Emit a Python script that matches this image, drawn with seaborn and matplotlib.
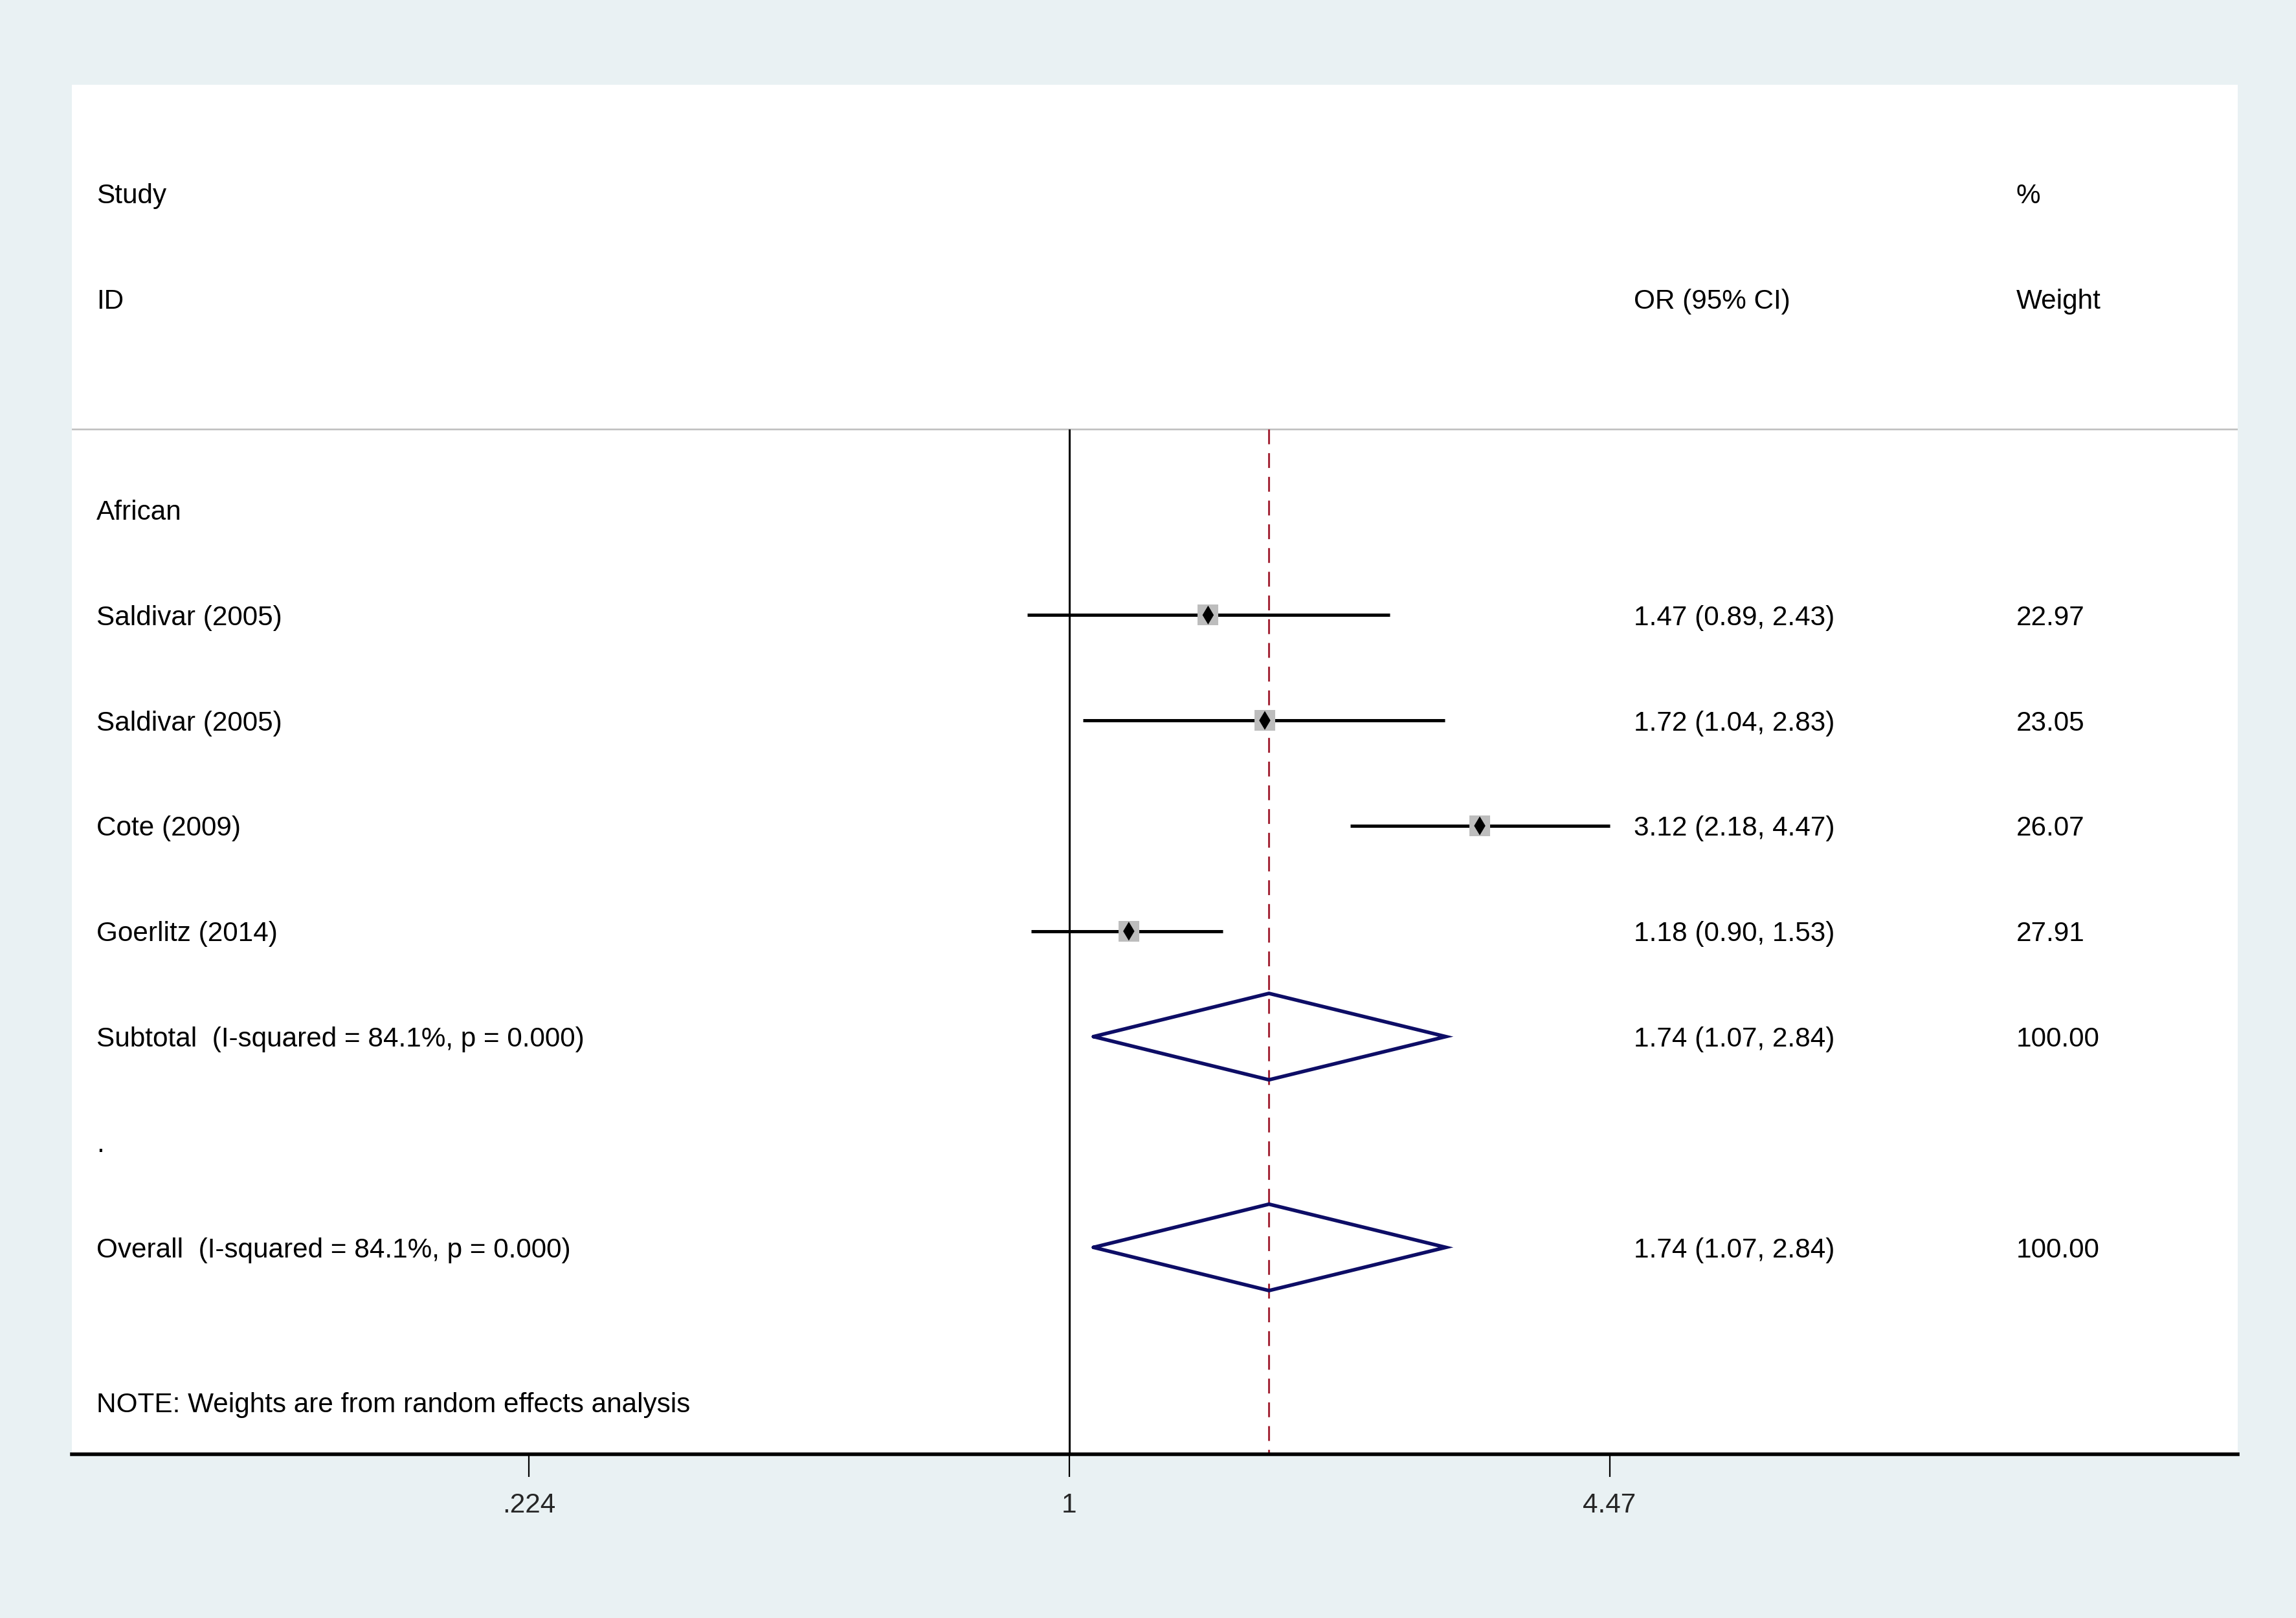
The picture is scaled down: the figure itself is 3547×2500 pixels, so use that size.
import matplotlib
matplotlib.use("Agg")
import matplotlib.pyplot as plt
import seaborn as sns
import pandas as pd
import numpy as np

# study level data (OR with 95% CI and random effects weight)
studies = ['Saldivar (2005)', 'Saldivar (2005)', 'Cote (2009)', 'Goerlitz (2014)']
or_est = [1.47, 1.72, 3.12, 1.18]
ci_lo = [0.89, 1.04, 2.18, 0.90]
ci_hi = [2.43, 2.83, 4.47, 1.53]
weights = [22.97, 23.05, 26.07, 27.91]

# pooled estimates
pooled_labels = ['Subtotal  (I-squared = 84.1%, p = 0.000)',
                 'Overall  (I-squared = 84.1%, p = 0.000)']
pooled_est = [1.74, 1.74]
pooled_lo = [1.07, 1.07]
pooled_hi = [2.84, 2.84]
pooled_wt = [100.00, 100.00]

tick_vals = [0.224, 1, 4.47]
tick_labels = ['.224', '1', '4.47']

sns.set_style('white')
plt.rcParams['font.family'] = ['Liberation Sans', 'DejaVu Sans']
FS = 15.2

fig = plt.figure(figsize=(17.735, 12.5), dpi=200)
fig.patch.set_facecolor('#E9F1F3')
ax = fig.add_axes([0.03125, 0.1014, 0.9745 - 0.03125, 0.9475 - 0.1014])
ax.set_facecolor('white')

rows_study = [4, 5, 6, 7]
rows_pooled = [8, 10]
line_y = 2.236
ymin, ymax = -1.03, 11.96

ax.set_xscale('log')
ax.set_xlim(np.exp(-2.763), np.exp(3.237))
ax.set_ylim(ymax, ymin)

# header separator, null line and pooled effect line
ax.axhline(line_y, color='#BDBDBD', lw=0.9, zorder=1)
ax.vlines(1, line_y, ymax, color='black', lw=1.1, zorder=2)
ax.vlines(pooled_est[-1], line_y, ymax, color='#A5293A', lw=1.1,
          linestyles=(0, (7.5, 4.5)), zorder=2)

# confidence intervals
ax.hlines(rows_study, ci_lo, ci_hi, color='black', lw=1.8, zorder=3)

# weight boxes (nearly equal weights, so boxes look the same size) and point estimates
df = pd.DataFrame({'OR': or_est, 'row': rows_study, 'w': weights})
sns.scatterplot(data=df, x='OR', y='row', marker='s', s=11.6 ** 2,
                color='#BDBDBD', edgecolor='none', ax=ax, zorder=4, legend=False)
sns.scatterplot(data=df, x='OR', y='row', marker='d', s=55,
                color='black', edgecolor='none', ax=ax, zorder=5, legend=False)

# pooled diamonds
for r, e, lo, hi in zip(rows_pooled, pooled_est, pooled_lo, pooled_hi):
    ax.plot([lo, e, hi, e, lo], [r, r - 0.41, r, r + 0.41, r],
            color='#0D0D66', lw=2.0, zorder=4, solid_joinstyle='miter')

# text columns
tr = ax.get_yaxis_transform()
x_id, x_or, x_wt = 0.0115, 0.7214, 0.8979
kw = dict(fontsize=FS, va='center_baseline', transform=tr, color='black')
ax.text(x_id, 0, 'Study', **kw)
ax.text(x_id, 1, 'ID', **kw)
ax.text(x_or, 1, 'OR (95% CI)', **kw)
ax.text(x_wt, 0, '%', **kw)
ax.text(x_wt, 1, 'Weight', **kw)
ax.text(x_id, 3, 'African', **kw)
for r, s, e, lo, hi, w in zip(rows_study, studies, or_est, ci_lo, ci_hi, weights):
    ax.text(x_id, r, s, **kw)
    ax.text(x_or, r, f'{e:.2f} ({lo:.2f}, {hi:.2f})', **kw)
    ax.text(x_wt, r, f'{w:.2f}', **kw)
for r, s, e, lo, hi, w in zip(rows_pooled, pooled_labels, pooled_est, pooled_lo,
                              pooled_hi, pooled_wt):
    ax.text(x_id, r, s, **kw)
    ax.text(x_or, r, f'{e:.2f} ({lo:.2f}, {hi:.2f})', **kw)
    ax.text(x_wt, r, f'{w:.2f}', **kw)
ax.text(x_id, 9, '.', **kw)
ax.text(x_id, 11.47, 'NOTE: Weights are from random effects analysis', **kw)

# axis styling
for sp in ['top', 'left', 'right']:
    ax.spines[sp].set_visible(False)
ax.spines['bottom'].set_linewidth(2.0)
ax.spines['bottom'].set_color('black')
ax.set_yticks([])
ax.set_xticks(tick_vals)
ax.set_xticklabels(tick_labels)
ax.xaxis.set_minor_locator(matplotlib.ticker.NullLocator())
ax.tick_params(axis='x', direction='out', length=12.5, width=0.8,
               color='black', labelsize=FS, pad=9, bottom=True)
ax.set_xlabel('')
ax.set_ylabel('')

fig.savefig('out.png', dpi=200, facecolor=fig.get_facecolor())
